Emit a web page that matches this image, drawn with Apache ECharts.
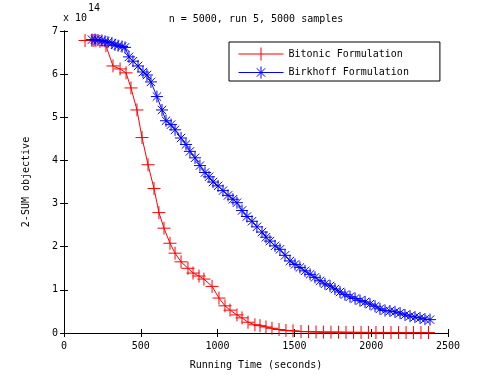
<!DOCTYPE html>
<html lang="en">
<head>
    <meta charset="UTF-8">
    <title>2-SUM objective vs running time</title>
    <script src="https://cdn.jsdelivr.net/npm/echarts@6/dist/echarts.min.js"></script>
    <style>
        html, body { margin: 0; padding: 0; background: #fff; }
    </style>
</head>
<body>
<div id="mybox" style="width: 495px; height: 375px;"></div>
<script>
    // values, objective in units of 1e14
    var bitonicTime = [137, 182, 195, 208, 234, 273, 319, 365, 404, 436, 475, 508, 547, 586, 618, 651,
        690, 723, 762, 807, 840, 879, 911, 964, 1009, 1048, 1081, 1126, 1159, 1198, 1243, 1276, 1315,
        1354, 1400, 1445, 1491, 1543, 1592, 1641, 1689, 1738, 1787, 1836, 1885, 1934, 1982, 2031, 2080,
        2129, 2178, 2227, 2275, 2324, 2373];
    var bitonicValue = [6.78, 6.78, 6.78, 6.78, 6.76, 6.66, 6.19, 6.12, 6.03, 5.68, 5.17, 4.53, 3.90,
        3.35, 2.79, 2.43, 2.08, 1.85, 1.65, 1.50, 1.39, 1.32, 1.25, 1.08, 0.81, 0.63, 0.53, 0.42, 0.35,
        0.25, 0.19, 0.17, 0.14, 0.11, 0.08, 0.06, 0.05, 0.035, 0.03, 0.025, 0.02, 0.02, 0.018, 0.016,
        0.015, 0.014, 0.013, 0.012, 0.012, 0.011, 0.011, 0.01, 0.01, 0.01, 0.01];

    var birkhoffTime = [182, 202, 221, 247, 267, 286, 312, 332, 352, 378, 397, 423, 449, 482, 514, 540,
        566, 605, 638, 664, 697, 723, 762, 794, 820, 853, 885, 918, 944, 970, 1003, 1035, 1068, 1100,
        1126, 1159, 1191, 1224, 1256, 1289, 1315, 1341, 1374, 1406, 1439, 1471, 1504, 1536, 1569, 1602,
        1634, 1667, 1699, 1732, 1764, 1797, 1829, 1862, 1895, 1927, 1960, 1992, 2025, 2057, 2090, 2122,
        2155, 2188, 2220, 2253, 2285, 2318, 2350, 2383];
    var birkhoffValue = [6.80, 6.80, 6.79, 6.78, 6.76, 6.74, 6.72, 6.68, 6.66, 6.64, 6.62, 6.40, 6.30,
        6.19, 6.05, 5.98, 5.82, 5.48, 5.17, 4.92, 4.83, 4.71, 4.52, 4.37, 4.21, 4.06, 3.88, 3.72, 3.62,
        3.50, 3.41, 3.30, 3.19, 3.10, 3.02, 2.84, 2.70, 2.59, 2.46, 2.34, 2.22, 2.13, 2.02, 1.94, 1.80,
        1.67, 1.59, 1.52, 1.44, 1.36, 1.29, 1.21, 1.14, 1.09, 1.02, 0.95, 0.89, 0.84, 0.80, 0.75, 0.72,
        0.67, 0.62, 0.56, 0.52, 0.51, 0.49, 0.46, 0.42, 0.39, 0.37, 0.35, 0.32, 0.31];

    var xTicks = [0, 500, 1000, 1500, 2000, 2500];
    var yTicks = [0, 1, 2, 3, 4, 5, 6, 7];

    var font = 'DejaVu Sans Mono';

    function pairs(xs, ys) {
        var out = [];
        for (var i = 0; i < xs.length; i++) out.push([xs[i], ys[i]]);
        return out;
    }

    // matlab style markers drawn as strokes
    var plusMark = 'path://M6,0L6,12M0,6L12,6';
    var starMark = 'path://M6,0L6,12M0,6L12,6M1.8,1.8L10.2,10.2M1.8,10.2L10.2,1.8';
    // legend icons: line with the marker in the middle
    var plusIcon = 'path://M0,6.5L45,6.5M22.5,0L22.5,13';
    var starIcon = 'path://M0,6.5L45,6.5M22.5,0.5L22.5,12.5M18.3,2.3L26.7,10.7M18.3,10.7L26.7,2.3';

    var xCommon = {
        type: 'value', min: xTicks[0], max: xTicks[xTicks.length - 1], interval: 500,
        axisLine: { show: true, lineStyle: { color: '#000', width: 1 } },
        axisTick: { show: true, inside: true, length: 4, lineStyle: { color: '#000' } },
        splitLine: { show: false }
    };
    var yCommon = {
        type: 'value', min: yTicks[0], max: yTicks[yTicks.length - 1], interval: 1,
        axisLine: { show: true, lineStyle: { color: '#000', width: 1 } },
        axisTick: { show: true, inside: true, length: 4, lineStyle: { color: '#000' } },
        splitLine: { show: false }
    };

    var mychart = echarts.init(document.getElementById('mybox'));
    mychart.setOption({
        animation: false,
        textStyle: { fontFamily: font },
        grid: { left: 64, right: 47, top: 31, bottom: 41 },
        graphic: [
            { type: 'text', x: 256, y: 19, style: { text: 'n = 5000, run 5, 5000 samples', font: '10px ' + font, fill: '#000', textAlign: 'center', textVerticalAlign: 'middle' } },
            { type: 'text', x: 63, y: 18, style: { text: 'x 10', font: '10px ' + font, fill: '#000', textVerticalAlign: 'middle' } },
            { type: 'text', x: 88, y: 8, style: { text: '14', font: '10px ' + font, fill: '#000', textVerticalAlign: 'middle' } }
        ],
        legend: {
            left: 229, top: 42, orient: 'vertical',
            backgroundColor: '#fff', borderColor: '#000', borderWidth: 1, borderRadius: 0,
            padding: [5, 31, 2, 9], itemGap: 5, itemWidth: 45, itemHeight: 13,
            textStyle: { fontFamily: font, fontSize: 10, color: '#000' },
            data: [
                { name: 'Bitonic Formulation', icon: plusIcon,
                  itemStyle: { color: '#ff0000', borderColor: '#ff0000', borderWidth: 1 } },
                { name: 'Birkhoff Formulation', icon: starIcon,
                  itemStyle: { color: '#0000ff', borderColor: '#0000ff', borderWidth: 1 } }
            ]
        },
        xAxis: [
            Object.assign({}, xCommon, {
                position: 'bottom',
                name: 'Running Time (seconds)', nameLocation: 'middle', nameGap: 27,
                nameTextStyle: { fontFamily: font, fontSize: 10, color: '#000' },
                axisLabel: { color: '#000', fontFamily: font, fontSize: 10, margin: 8,
                    formatter: function (v) { return String(v); } }
            }),
            Object.assign({}, xCommon, { position: 'top', axisLabel: { show: false } })
        ],
        yAxis: [
            Object.assign({}, yCommon, {
                position: 'left',
                name: '2-SUM objective', nameLocation: 'middle', nameGap: 33,
                nameTextStyle: { fontFamily: font, fontSize: 10, color: '#000' },
                axisLabel: { color: '#000', fontFamily: font, fontSize: 10, margin: 6 }
            }),
            Object.assign({}, yCommon, { position: 'right', axisLabel: { show: false } })
        ],
        series: [
            {
                name: 'Bitonic Formulation', type: 'line',
                data: pairs(bitonicTime, bitonicValue),
                symbol: plusMark, symbolSize: 13, showAllSymbol: true,
                lineStyle: { color: '#ff0000', width: 1 },
                itemStyle: { color: '#ff0000', borderColor: '#ff0000', borderWidth: 1 },
                emphasis: { disabled: true }
            },
            {
                name: 'Birkhoff Formulation', type: 'line',
                data: pairs(birkhoffTime, birkhoffValue),
                symbol: starMark, symbolSize: 12, showAllSymbol: true,
                lineStyle: { color: '#0000ff', width: 1 },
                itemStyle: { color: '#0000ff', borderColor: '#0000ff', borderWidth: 1 },
                emphasis: { disabled: true }
            }
        ]
    });
</script>
</body>
</html>
